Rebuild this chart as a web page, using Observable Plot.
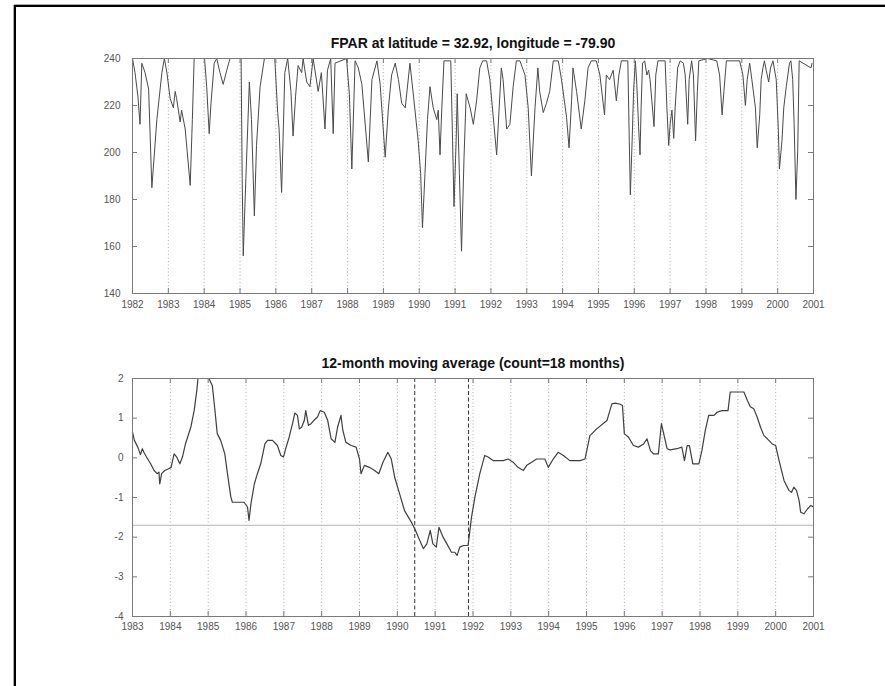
<!DOCTYPE html>
<html>
<head>
<meta charset="utf-8">
<script src="https://cdn.jsdelivr.net/npm/d3@7"></script>
<script src="https://cdn.jsdelivr.net/npm/@observablehq/plot@0.6"></script>
<style>
  html, body { margin: 0; padding: 0; background: #fff; }
  #page { position: relative; width: 885px; height: 686px; overflow: hidden; background: #fff; }
  .edge { position: absolute; background: #000; }
  .panel { position: absolute; left: 0; }
</style>
</head>
<body>
<div id="page">
  <div class="edge" style="left:14px; top:5px; width:871px; height:2px; box-shadow:0 -1px 0 #aaa;"></div>
  <div class="edge" style="left:14px; top:5px; width:2px; height:681px; box-shadow:-1px 0 0 #aaa;"></div>
  <div id="top" class="panel" style="top:0px;"></div>
  <div id="bottom" class="panel" style="top:320px;"></div>
</div>
<script>
// FPAR time series (decimal year, FPAR value)
const fparYear = [
  1982.00, 1982.07, 1982.15, 1982.21, 1982.26, 1982.35, 1982.45, 1982.54, 1982.68, 1982.82,
  1982.89, 1982.96, 1983.05, 1983.14, 1983.19, 1983.23, 1983.33, 1983.37, 1983.47, 1983.61,
  1983.67, 1983.72, 1984.01, 1984.07, 1984.14, 1984.19, 1984.28, 1984.35, 1984.44, 1984.53,
  1984.63, 1984.72, 1985.03, 1985.06, 1985.09, 1985.14, 1985.26, 1985.32, 1985.40, 1985.46,
  1985.56, 1985.68, 1985.97, 1986.05, 1986.09, 1986.16, 1986.25, 1986.33, 1986.42, 1986.48,
  1986.55, 1986.62, 1986.72, 1986.76, 1986.86, 1986.95, 1987.04, 1987.18, 1987.27, 1987.37,
  1987.44, 1987.53, 1987.60, 1987.65, 1987.97, 1988.05, 1988.12, 1988.21, 1988.30, 1988.40,
  1988.58, 1988.68, 1988.82, 1988.91, 1989.05, 1989.14, 1989.23, 1989.33, 1989.42, 1989.51,
  1989.61, 1989.74, 1989.84, 1989.97, 1990.04, 1990.09, 1990.16, 1990.23, 1990.30, 1990.39,
  1990.49, 1990.53, 1990.58, 1990.63, 1990.69, 1990.88, 1990.93, 1990.97, 1991.03, 1991.06,
  1991.12, 1991.18, 1991.25, 1991.31, 1991.42, 1991.51, 1991.60, 1991.69, 1991.77, 1991.88,
  1991.97, 1992.06, 1992.16, 1992.23, 1992.29, 1992.34, 1992.44, 1992.53, 1992.62, 1992.71,
  1992.81, 1992.95, 1993.04, 1993.13, 1993.23, 1993.31, 1993.36, 1993.46, 1993.55, 1993.64,
  1993.74, 1993.88, 1993.97, 1994.11, 1994.18, 1994.25, 1994.29, 1994.39, 1994.52, 1994.62,
  1994.71, 1994.80, 1994.94, 1995.04, 1995.17, 1995.22, 1995.31, 1995.41, 1995.50, 1995.57,
  1995.64, 1995.82, 1995.86, 1995.89, 1995.94, 1995.98, 1996.03, 1996.07, 1996.12, 1996.16,
  1996.19, 1996.23, 1996.29, 1996.35, 1996.40, 1996.44, 1996.49, 1996.55, 1996.60, 1996.66,
  1996.86, 1996.91, 1996.96, 1997.00, 1997.05, 1997.10, 1997.14, 1997.21, 1997.28, 1997.37,
  1997.42, 1997.49, 1997.53, 1997.60, 1997.65, 1997.71, 1997.76, 1997.80, 1998.05, 1998.30,
  1998.38, 1998.45, 1998.50, 1998.57, 1998.94, 1999.03, 1999.10, 1999.15, 1999.22, 1999.28,
  1999.38, 1999.43, 1999.50, 1999.54, 1999.59, 1999.63, 1999.68, 1999.75, 1999.80, 1999.87,
  1999.96, 2000.02, 2000.05, 2000.12, 2000.17, 2000.24, 2000.33, 2000.37, 2000.42, 2000.46,
  2000.51, 2000.56, 2000.60, 2000.93, 2000.96
];
const fparValue = [
  240, 234, 224, 212, 238, 234, 227, 185, 214, 234,
  240, 234, 223, 219, 226, 223, 213, 218, 210, 186,
  214, 240, 240, 228, 208, 221, 238, 240, 234, 229,
  235, 240, 240, 189, 156, 179, 230, 214, 173, 203,
  228, 240, 240, 217, 210, 183, 234, 240, 226, 207,
  224, 237, 234, 240, 230, 228, 240, 226, 234, 210,
  235, 240, 208, 238, 240, 225, 193, 239, 236, 229,
  196, 231, 239, 229, 198, 219, 233, 238, 231, 221,
  219, 238, 224, 205, 191, 168, 191, 214, 228, 219,
  214, 218, 199, 219, 239, 239, 205, 177, 205, 225,
  191, 158, 198, 225, 219, 212, 222, 236, 239, 239,
  231, 216, 199, 219, 236, 231, 210, 212, 228, 239,
  239, 233, 219, 190, 219, 236, 226, 217, 221, 226,
  239, 239, 231, 215, 202, 222, 236, 226, 210, 222,
  236, 239, 239, 233, 216, 233, 231, 235, 222, 233,
  239, 239, 205, 182, 205, 226, 239, 229, 211, 199,
  219, 238, 239, 233, 235, 231, 222, 211, 233, 239,
  239, 219, 203, 212, 218, 206, 219, 236, 239, 238,
  233, 212, 231, 239, 233, 205, 226, 239, 240, 239,
  233, 216, 226, 239, 239, 233, 220, 231, 238, 231,
  219, 202, 216, 231, 236, 239, 235, 230, 236, 239,
  231, 209, 193, 205, 219, 228, 238, 239, 231, 212,
  180, 201, 239, 236, 238
];

// 12-month moving average of the standardized anomaly
const maYear = [
  1983.00, 1983.05, 1983.14, 1983.21, 1983.26, 1983.30, 1983.37, 1983.48, 1983.57, 1983.65,
  1983.70, 1983.72, 1983.77, 1983.85, 1983.94, 1984.02, 1984.10, 1984.17, 1984.25, 1984.32,
  1984.40, 1984.54, 1984.63, 1984.70, 1984.73, 1985.02, 1985.11, 1985.17, 1985.24, 1985.33,
  1985.44, 1985.51, 1985.60, 1985.64, 1985.95, 1986.04, 1986.08, 1986.13, 1986.22, 1986.30,
  1986.39, 1986.50, 1986.57, 1986.70, 1986.83, 1986.92, 1986.99, 1987.05, 1987.14, 1987.23,
  1987.29, 1987.36, 1987.41, 1987.47, 1987.54, 1987.58, 1987.65, 1987.72, 1987.79, 1987.89,
  1987.96, 1988.07, 1988.16, 1988.25, 1988.35, 1988.42, 1988.51, 1988.56, 1988.64, 1988.78,
  1988.91, 1989.00, 1989.04, 1989.13, 1989.26, 1989.40, 1989.51, 1989.62, 1989.75, 1989.84,
  1989.93, 1990.06, 1990.19, 1990.37, 1990.48, 1990.59, 1990.69, 1990.78, 1990.87, 1990.94,
  1991.03, 1991.10, 1991.21, 1991.31, 1991.43, 1991.52, 1991.58, 1991.65, 1991.75, 1991.87,
  1991.96, 1992.05, 1992.18, 1992.31, 1992.40, 1992.53, 1992.80, 1992.93, 1993.06, 1993.19,
  1993.33, 1993.42, 1993.55, 1993.68, 1993.90, 1993.99, 1994.12, 1994.25, 1994.39, 1994.56,
  1994.83, 1994.96, 1995.09, 1995.27, 1995.54, 1995.67, 1995.76, 1995.89, 1995.95, 1996.00,
  1996.11, 1996.24, 1996.37, 1996.51, 1996.60, 1996.69, 1996.77, 1996.90, 1996.98, 1997.04,
  1997.13, 1997.21, 1997.39, 1997.52, 1997.59, 1997.66, 1997.72, 1997.81, 1997.97, 1998.05,
  1998.14, 1998.23, 1998.37, 1998.45, 1998.58, 1998.74, 1998.80, 1998.94, 1999.16, 1999.25,
  1999.33, 1999.42, 1999.51, 1999.60, 1999.69, 1999.78, 1999.91, 2000.00, 2000.09, 2000.22,
  2000.35, 2000.42, 2000.48, 2000.55, 2000.62, 2000.66, 2000.75, 2000.84, 2000.93, 2001.00
];
const maValue = [
  0.65, 0.44, 0.27, 0.08, 0.23, 0.14, 0.02, -0.15, -0.32, -0.40,
  -0.36, -0.66, -0.40, -0.32, -0.28, -0.24, 0.10, 0.02, -0.15, 0.02,
  0.35, 0.77, 1.19, 1.70, 2.00, 2.00, 1.82, 1.28, 0.61, 0.44,
  0.10, -0.40, -0.99, -1.12, -1.12, -1.24, -1.58, -1.16, -0.66, -0.40,
  -0.15, 0.35, 0.44, 0.44, 0.31, 0.06, 0.02, 0.23, 0.52, 0.86,
  1.13, 1.07, 0.73, 0.77, 0.94, 1.19, 0.82, 0.86, 0.94, 1.03,
  1.19, 1.15, 0.94, 0.48, 0.39, 0.77, 1.07, 0.69, 0.39, 0.31,
  0.27, -0.03, -0.40, -0.19, -0.24, -0.32, -0.40, -0.11, 0.14, -0.03,
  -0.49, -0.91, -1.33, -1.62, -1.83, -2.08, -2.29, -2.17, -1.83, -2.17,
  -2.25, -1.75, -2.00, -2.17, -2.38, -2.38, -2.46, -2.25, -2.21, -2.21,
  -1.50, -0.99, -0.40, 0.06, 0.02, -0.07, -0.07, -0.03, -0.11, -0.24,
  -0.32, -0.19, -0.11, -0.03, -0.03, -0.24, -0.03, 0.14, 0.06, -0.07,
  -0.07, -0.03, 0.56, 0.73, 0.94, 1.36, 1.38, 1.35, 1.32, 0.61,
  0.52, 0.31, 0.27, 0.35, 0.48, 0.18, 0.10, 0.10, 0.86, 0.61,
  0.23, 0.20, 0.23, 0.27, -0.07, 0.31, 0.31, -0.15, -0.15, 0.18,
  0.69, 1.07, 1.07, 1.15, 1.19, 1.19, 1.66, 1.66, 1.66, 1.45,
  1.29, 1.24, 1.03, 0.77, 0.56, 0.48, 0.35, 0.31, -0.07, -0.57,
  -0.82, -0.87, -0.74, -0.82, -1.08, -1.37, -1.41, -1.29, -1.20, -1.24
];

// Axis ticks
const topXTicks = d3.range(1982, 2002);
const topYTicks = [140, 160, 180, 200, 220, 240];
const bottomXTicks = d3.range(1983, 2002);
const bottomYTicks = [-4, -3, -2, -1, 0, 1, 2];

// Drought threshold and the span of months below it
const threshold = [-1.7];
const droughtBounds = [1990.46, 1991.88];

const topTitle = "FPAR at latitude = 32.92, longitude = -79.90";
const bottomTitle = "12-month moving average (count=18 months)";

const fpar = fparYear.map((x, i) => ({x, y: fparValue[i]}));
const movingAverage = maYear.map((x, i) => ({x, y: maValue[i]}));

const W = 885;
const ML = 132, MR = 72;
const FW = W - ML - MR;
const TICK = 5;
const FONT = "'Liberation Sans', Arial, Helvetica, sans-serif";
const axisColor = "#7a7a7a";
const gridColor = "#9a9a9a";

// Inward-pointing ticks on all four sides of a frame
function boxTicks(xTicks, yTicks, frameHeight) {
  return [
    Plot.tickY(yTicks, {y: d => d, stroke: axisColor, insetRight: FW - TICK}),
    Plot.tickY(yTicks, {y: d => d, stroke: axisColor, insetLeft: FW - TICK}),
    Plot.tickX(xTicks, {x: d => d, stroke: axisColor, insetTop: frameHeight - TICK}),
    Plot.tickX(xTicks, {x: d => d, stroke: axisColor, insetBottom: frameHeight - TICK})
  ];
}

function title(text) {
  return Plot.text([text], {
    text: d => d, frameAnchor: "top", dy: -15, lineAnchor: "middle",
    fontWeight: "bold", fontSize: 14, fill: "#111"
  });
}

const topH = 320, topMT = 58, topMB = 27;
const topPlot = Plot.plot({
  width: W, height: topH,
  marginLeft: ML, marginRight: MR, marginTop: topMT, marginBottom: topMB,
  style: {fontFamily: FONT, fontSize: "10px", color: "#555", background: "transparent", overflow: "visible"},
  x: {domain: [1982, 2001], ticks: topXTicks, tickSize: 0, tickPadding: 7, tickFormat: d => String(d), label: null},
  y: {domain: [140, 240], ticks: topYTicks, tickSize: 0, tickPadding: 12, tickFormat: d => String(d), label: null},
  marks: [
    Plot.ruleX(topXTicks.slice(1, -1), {x: d => d, stroke: gridColor, strokeDasharray: "1,2.5", strokeWidth: 0.8}),
    Plot.line(fpar, {x: "x", y: "y", stroke: "#4a4a4a", strokeWidth: 1}),
    ...boxTicks(topXTicks, topYTicks, topH - topMT - topMB),
    Plot.frame({stroke: axisColor}),
    title(topTitle)
  ]
});
document.getElementById("top").appendChild(topPlot);

const botH = 330, botMT = 58, botMB = 34;
const bottomPlot = Plot.plot({
  width: W, height: botH,
  marginLeft: ML, marginRight: MR, marginTop: botMT, marginBottom: botMB,
  style: {fontFamily: FONT, fontSize: "10px", color: "#555", background: "transparent", overflow: "visible"},
  x: {domain: [1983, 2001], ticks: bottomXTicks, tickSize: 0, tickPadding: 6, tickFormat: d => String(d), label: null},
  y: {domain: [-4, 2], ticks: bottomYTicks, tickSize: 0, tickPadding: 9, tickFormat: d => String(d), label: null},
  marks: [
    Plot.ruleX(bottomXTicks.slice(1, -1), {x: d => d, stroke: gridColor, strokeDasharray: "1,2.5", strokeWidth: 0.8}),
    Plot.ruleY(threshold, {y: d => d, stroke: "#b5b5b5", strokeWidth: 1}),
    Plot.ruleX(droughtBounds, {x: d => d, stroke: "#333", strokeDasharray: "4,2.5", strokeWidth: 1}),
    Plot.line(movingAverage, {x: "x", y: "y", stroke: "#3f3f3f", strokeWidth: 1.2}),
    ...boxTicks(bottomXTicks, bottomYTicks, botH - botMT - botMB),
    Plot.frame({stroke: axisColor}),
    title(bottomTitle)
  ]
});
document.getElementById("bottom").appendChild(bottomPlot);
</script>
</body>
</html>
